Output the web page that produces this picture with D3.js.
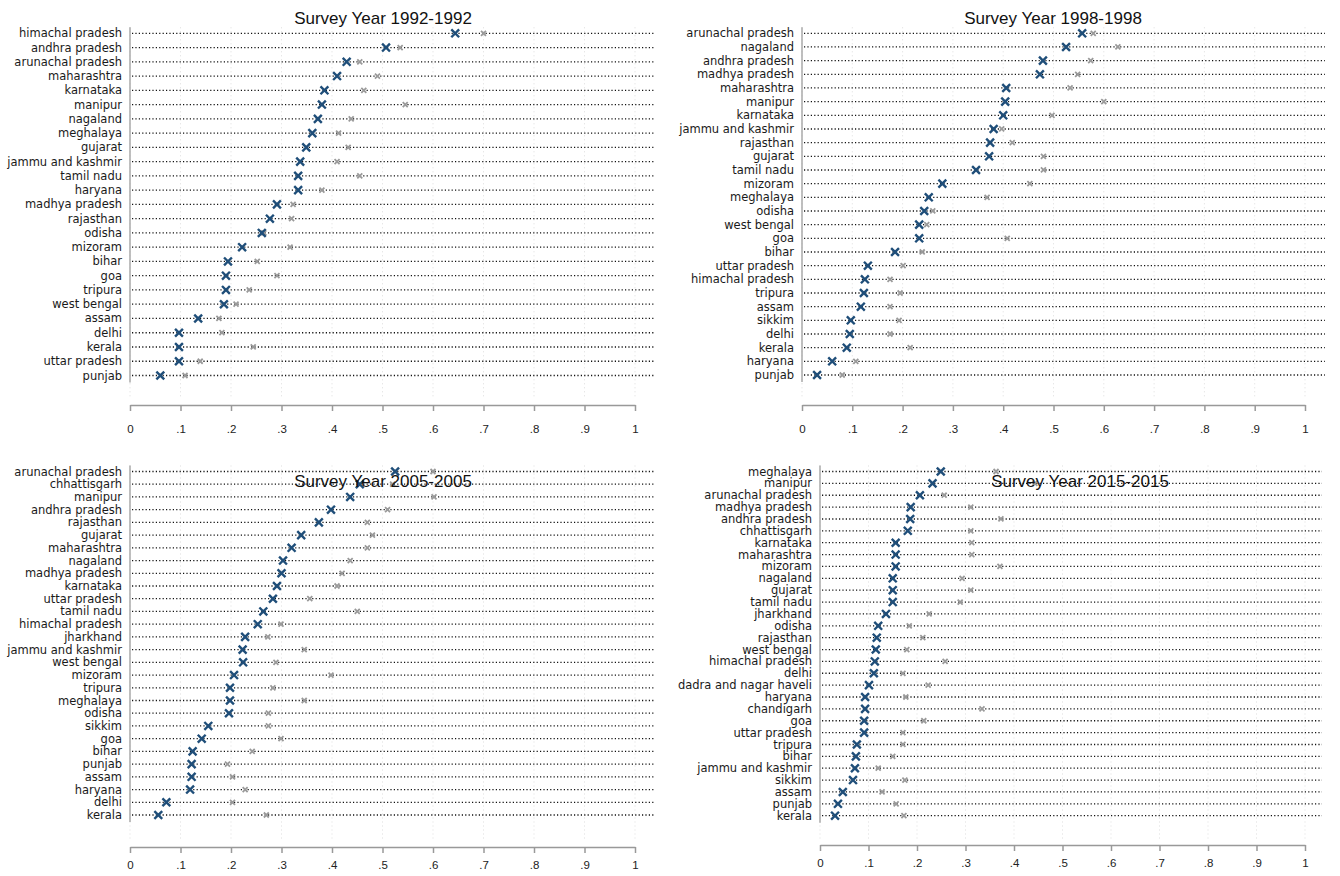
<!DOCTYPE html>
<html>
<head>
<meta charset="utf-8">
<script src="https://cdn.jsdelivr.net/npm/d3@7"></script>
<style>
  body { margin: 0; background: #fff; }
  .lbl { font-family: "DejaVu Sans", Verdana, sans-serif; font-size: 11.5px; fill: #1a1a1a; }
  .ttl { font-family: "Liberation Sans", Arial, sans-serif; font-size: 17px; fill: #111; }
  .axis text { font-family: "Liberation Sans", Arial, sans-serif; font-size: 11.5px; fill: #222; }
  .axis path, .axis line { stroke: #999; }
</style>
</head>
<body>
<div id="chart"></div>
<script>
// tick values on the x axis
const xTicks = [0, 0.1, 0.2, 0.3, 0.4, 0.5, 0.6, 0.7, 0.8, 0.9, 1]

// Survey 1992
const states1992 = ['himachal pradesh','andhra pradesh','arunachal pradesh','maharashtra','karnataka','manipur','nagaland','meghalaya','gujarat','jammu and kashmir','tamil nadu','haryana','madhya pradesh','rajasthan','odisha','mizoram','bihar','goa','tripura','west bengal','assam','delhi','kerala','uttar pradesh','punjab']
const blue1992 = [0.644,0.507,0.429,0.41,0.385,0.38,0.372,0.361,0.349,0.337,0.333,0.333,0.291,0.277,0.261,0.222,0.194,0.19,0.19,0.186,0.135,0.097,0.097,0.097,0.06]
const gray1992 = [0.70,0.535,0.455,0.49,0.463,0.545,0.438,0.413,0.432,0.41,0.455,0.38,0.323,0.32,0.265,0.317,0.252,0.291,0.236,0.21,0.176,0.182,0.244,0.139,0.109]

// Survey 1998
const states1998 = ['arunachal pradesh','nagaland','andhra pradesh','madhya pradesh','maharashtra','manipur','karnataka','jammu and kashmir','rajasthan','gujarat','tamil nadu','mizoram','meghalaya','odisha','west bengal','goa','bihar','uttar pradesh','himachal pradesh','tripura','assam','sikkim','delhi','kerala','haryana','punjab']
const blue1998 = [0.557,0.525,0.479,0.473,0.406,0.404,0.40,0.381,0.374,0.372,0.346,0.279,0.252,0.243,0.233,0.233,0.185,0.131,0.125,0.123,0.117,0.097,0.095,0.089,0.06,0.03]
const gray1998 = [0.579,0.628,0.574,0.548,0.533,0.60,0.497,0.397,0.418,0.48,0.48,0.453,0.368,0.26,0.248,0.408,0.239,0.201,0.175,0.195,0.175,0.193,0.175,0.215,0.107,0.08]

// Survey 2005
const states2005 = ['arunachal pradesh','chhattisgarh','manipur','andhra pradesh','rajasthan','gujarat','maharashtra','nagaland','madhya pradesh','karnataka','uttar pradesh','tamil nadu','himachal pradesh','jharkhand','jammu and kashmir','west bengal','mizoram','tripura','meghalaya','odisha','sikkim','goa','bihar','punjab','assam','haryana','delhi','kerala']
const blue2005 = [0.525,0.455,0.436,0.398,0.374,0.339,0.32,0.303,0.30,0.291,0.283,0.264,0.253,0.228,0.223,0.224,0.206,0.198,0.198,0.196,0.155,0.142,0.124,0.122,0.122,0.119,0.072,0.056]
const gray2005 = [0.60,0.52,0.602,0.51,0.47,0.48,0.47,0.436,0.42,0.41,0.356,0.45,0.299,0.273,0.345,0.289,0.398,0.283,0.345,0.274,0.274,0.299,0.242,0.193,0.203,0.228,0.203,0.27]

// Survey 2015
const states2015 = ['meghalaya','manipur','arunachal pradesh','madhya pradesh','andhra pradesh','chhattisgarh','karnataka','maharashtra','mizoram','nagaland','gujarat','tamil nadu','jharkhand','odisha','rajasthan','west bengal','himachal pradesh','delhi','dadra and nagar haveli','haryana','chandigarh','goa','uttar pradesh','tripura','bihar','jammu and kashmir','sikkim','assam','punjab','kerala']
const blue2015 = [0.249,0.232,0.206,0.187,0.186,0.181,0.156,0.156,0.156,0.15,0.15,0.15,0.136,0.12,0.117,0.115,0.113,0.111,0.101,0.093,0.093,0.091,0.091,0.076,0.074,0.072,0.068,0.047,0.037,0.031]
const gray2015 = [0.363,0.443,0.256,0.311,0.373,0.311,0.313,0.313,0.371,0.293,0.311,0.289,0.225,0.184,0.212,0.179,0.258,0.171,0.223,0.177,0.334,0.214,0.171,0.171,0.15,0.12,0.175,0.128,0.157,0.173]

const svg = d3.select('#chart').append('svg')
    .attr('width', 1340)
    .attr('height', 876)

const panels = [
    { title: 'Survey Year 1992-1992', states: states1992, blue: blue1992, gray: gray1992,
      x0: 130, x1: 635, lineEnd: 655, top: 33.3, bottom: 375.5, axisY: 405, pad: 14, titleX: 383, titleY: 24 },
    { title: 'Survey Year 1998-1998', states: states1998, blue: blue1998, gray: gray1998,
      x0: 802, x1: 1305, lineEnd: 1325, top: 33.3, bottom: 375, axisY: 405, pad: 14, titleX: 1053, titleY: 24 },
    { title: 'Survey Year 2005-2005', states: states2005, blue: blue2005, gray: gray2005,
      x0: 130, x1: 635, lineEnd: 655, top: 471.5, bottom: 815, axisY: 847, pad: 8, titleX: 383, titleY: 487 },
    { title: 'Survey Year 2015-2015', states: states2015, blue: blue2015, gray: gray2015,
      x0: 820, x1: 1305, lineEnd: 1322, top: 471.5, bottom: 815.7, axisY: 845, pad: 8, titleX: 1080, titleY: 487 }
]

const tickFmt = d => d === 0 ? '0' : d === 1 ? '1' : d3.format('.1f')(d).replace(/^0/, '')

function drawPanel(p) {
    const g = svg.append('g')
    const x = d3.scaleLinear().domain([0, 1]).range([p.x0, p.x1])
    const y = d3.scalePoint().domain(p.states).range([p.top, p.bottom])

    // faint vertical grid at the ticks
    g.selectAll('.grid')
        .data(xTicks)
        .join('line')
        .attr('class', 'grid')
        .attr('x1', d => x(d)).attr('x2', d => x(d))
        .attr('y1', p.top - 6).attr('y2', p.axisY - 6)
        .attr('stroke', '#ddd')
        .attr('stroke-dasharray', '1,3')

    // left axis line
    g.append('line')
        .attr('x1', p.x0).attr('x2', p.x0)
        .attr('y1', p.top - 6).attr('y2', p.bottom + 7)
        .attr('stroke', '#aaa')
        .attr('stroke-width', 1.5)

    const rows = p.states.map((s, i) => ({ s, b: p.blue[i], g: p.gray[i] }))

    g.selectAll('.row')
        .data(rows)
        .join('line')
        .attr('class', 'row')
        .attr('x1', p.x0 + 2).attr('x2', p.lineEnd)
        .attr('y1', d => y(d.s)).attr('y2', d => y(d.s))
        .attr('stroke', '#111')
        .attr('stroke-width', 1.3)
        .attr('stroke-dasharray', '1.2,2.2')

    g.selectAll('.lbl')
        .data(rows)
        .join('text')
        .attr('class', 'lbl')
        .attr('x', p.x0 - 8)
        .attr('y', d => y(d.s))
        .attr('dy', '0.35em')
        .attr('text-anchor', 'end')
        .text(d => d.s)

    const small = d3.symbol().type(d3.symbolX).size(18)
    g.selectAll('.gm')
        .data(rows)
        .join('path')
        .attr('class', 'gm')
        .attr('transform', d => `translate(${x(d.g)},${y(d.s)})`)
        .attr('d', small)
        .attr('fill', 'none')
        .attr('stroke', '#9a9a9a')
        .attr('stroke-width', 1.8)

    const big = d3.symbol().type(d3.symbolX).size(42)
    g.selectAll('.bm')
        .data(rows)
        .join('path')
        .attr('class', 'bm')
        .attr('transform', d => `translate(${x(d.b)},${y(d.s)})`)
        .attr('d', big)
        .attr('fill', 'none')
        .attr('stroke', '#1f4e79')
        .attr('stroke-width', 2.4)

    g.append('g')
        .attr('class', 'axis')
        .attr('transform', `translate(0,${p.axisY})`)
        .call(d3.axisBottom(x).tickValues(xTicks).tickFormat(tickFmt).tickSize(6).tickSizeOuter(0).tickPadding(p.pad))
        .call(a => a.selectAll('path, line').attr('stroke-width', 1.5))

    g.append('text')
        .attr('class', 'ttl')
        .attr('x', p.titleX)
        .attr('y', p.titleY)
        .attr('text-anchor', 'middle')
        .text(p.title)
}

panels.forEach(drawPanel)
</script>
</body>
</html>
